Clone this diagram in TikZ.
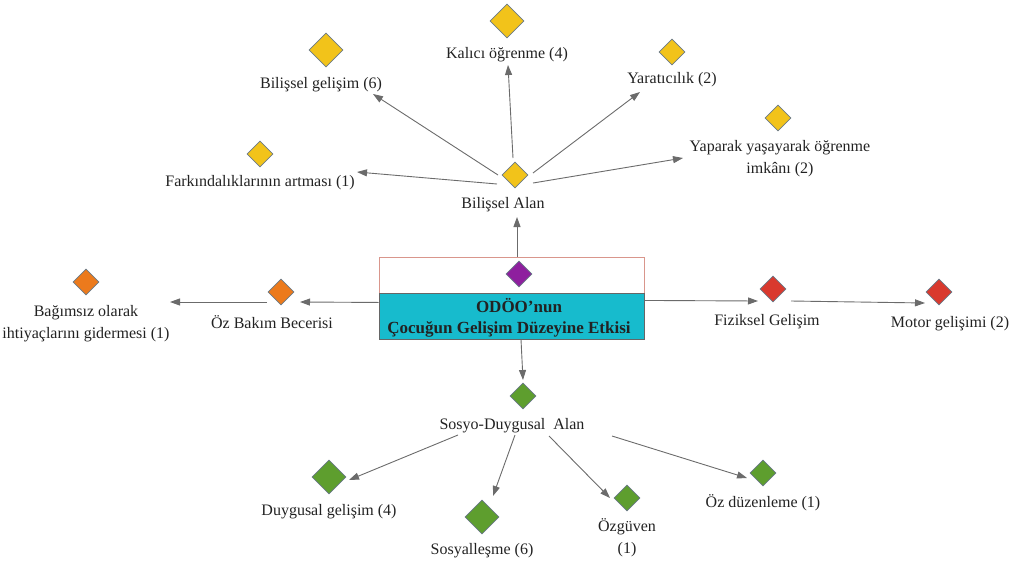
\documentclass[tikz,border=0pt]{standalone}
\usepackage{fontspec}
\setmainfont{Liberation Serif}
\usetikzlibrary{shapes.geometric,arrows.meta,calc}

\definecolor{dyellow}{HTML}{F2C31A}
\definecolor{dorange}{HTML}{EC7A1C}
\definecolor{dred}{HTML}{D9392E}
\definecolor{dgreen}{HTML}{5E9E2E}
\definecolor{dpurple}{HTML}{8E1F9E}
\definecolor{dedge}{HTML}{6A7A88}
\definecolor{boxcyan}{HTML}{17BBCD}
\definecolor{boxline}{HTML}{D9968C}
\definecolor{arrowgray}{HTML}{6B6B6B}
\definecolor{txt}{HTML}{222222}

\tikzset{
  gem/.style={shape=diamond, aspect=1, inner sep=0pt, draw=dedge, line width=0.8pt,
              minimum width=26pt, minimum height=26pt},
  biggem/.style={gem, minimum width=34pt, minimum height=34pt},
  lbl/.style={inner sep=0pt, text=txt, font=\fontsize{16}{22}\selectfont, align=center},
  ttl/.style={lbl, font=\fontsize{17}{23}\selectfont\bfseries},
  arr/.style={draw=arrowgray, line width=0.9pt, -{Triangle[length=10pt,width=7pt]}}
}

\begin{document}
\begin{tikzpicture}[x=1pt,y=-1pt]
\useasboundingbox (0,0) rectangle (1013,563);

% central box
\node[draw=boxline, fill=white, line width=0.9pt, minimum width=265pt, minimum height=36pt,
      inner sep=0pt] (boxtop) at (511.5,275) {};
\node[draw=gray!80!black, fill=boxcyan, line width=0.9pt, minimum width=265pt, minimum height=46pt,
      inner sep=0pt] (boxbot) at (511.5,316) {};
\node[gem, fill=dpurple] (core) at (519,274) {};
\node[ttl] (title1) at (519,306) {ODÖO’nun};
\node[ttl] (title2) at (509,329) {Çocuğun Gelişim Düzeyine Etkisi};

% cognitive domain
\node[gem, fill=dyellow] (bA) at (515,175) {};
\node[lbl] (bAl) at (503,205) {Bilişsel Alan};
\node[biggem, fill=dyellow] (kd) at (507,21) {};
\node[lbl] (kl) at (507,55) {Kalıcı öğrenme (4)};
\node[biggem, fill=dyellow] (bgd) at (326,50) {};
\node[lbl] (bgl) at (321,85) {Bilişsel gelişim (6)};
\node[gem, fill=dyellow] (fd) at (260,154) {};
\node[lbl] (fl) at (260,183) {Farkındalıklarının artması (1)};
\node[gem, fill=dyellow] (yd) at (672,52) {};
\node[lbl] (yl) at (672,80) {Yaratıcılık (2)};
\node[gem, fill=dyellow] (ypd) at (778,118) {};
\node[lbl] (ypl) at (780,159) {Yaparak yaşayarak öğrenme\\imkânı (2)};

% self-care
\node[gem, fill=dorange] (obd) at (281,292) {};
\node[lbl] (obl) at (272,322) {Öz Bakım Becerisi};
\node[gem, fill=dorange] (bgmd) at (86,282) {};
\node[lbl] (bgml) at (86,324) {Bağımsız olarak\\ihtiyaçlarını gidermesi (1)};

% physical development
\node[gem, fill=dred] (fzd) at (773,289) {};
\node[lbl] (fzl) at (767,322) {Fiziksel Gelişim};
\node[gem, fill=dred] (mtd) at (939,292) {};
\node[lbl] (mtl) at (950,324) {Motor gelişimi (2)};

% socio-emotional domain
\node[gem, fill=dgreen] (sdd) at (523,396) {};
\node[lbl] (sdl) at (512,426) {Sosyo-Duygusal\ \ Alan};
\node[biggem, fill=dgreen] (dgd) at (329,477) {};
\node[lbl] (dgl) at (329,512) {Duygusal gelişim (4)};
\node[biggem, fill=dgreen] (sod) at (482,517) {};
\node[lbl] (sol) at (482,551) {Sosyalleşme (6)};
\node[gem, fill=dgreen] (ozd) at (627,498) {};
\node[lbl] (ozl) at (627,538) {Özgüven\\(1)};
\node[gem, fill=dgreen] (odd) at (763,473) {};
\node[lbl] (odl) at (763,503) {Öz düzenleme (1)};

% connectors
\draw[arr] ($(boxtop.north)+(5.5,0)$) -- ($(bAl)+(14,12)$);
\draw[arr] ($(bA)+(-17,0)$) -- ($(bgl)+(52,9)$);
\draw[arr] ($(bA)+(-2,-17)$) -- ($(kl)+(1,10)$);
\draw[arr] ($(bA)+(18,-2)$) -- ($(yl)+(-32,12)$);
\draw[arr] ($(bA)+(-18,9)$) -- ($(fl)+(97,-11)$);
\draw[arr] ($(bA)+(18,8)$) -- ($(ypl)+(-97,-1)$);

\draw[arr] ($(boxtop.south west)+(0,9)$) -- ($(obd)+(19,10)$);
\draw[arr] ($(obd)+(-14,10)$) -- ($(bgml)+(84,-22)$);

\draw[arr] ($(boxtop.south east)+(0,7)$) -- ($(fzd)+(-15,12)$);
\draw[arr] ($(fzd)+(18,12)$) -- ($(mtd)+(-14,11)$);

\draw[arr] ($(boxbot.south)+(9.5,0)$) -- ($(sdd)+(0,-16)$);
\draw[arr] ($(sdl)+(-54,9)$) -- ($(dgd)+(20,3)$);
\draw[arr] ($(sdl)+(3,9)$) -- ($(sod)+(11,-21)$);
\draw[arr] ($(sdl)+(37,10)$) -- ($(ozd)+(-17,0)$);
\draw[arr] ($(sdl)+(100,10)$) -- ($(odd)+(-16,5)$);
\end{tikzpicture}
\end{document}
